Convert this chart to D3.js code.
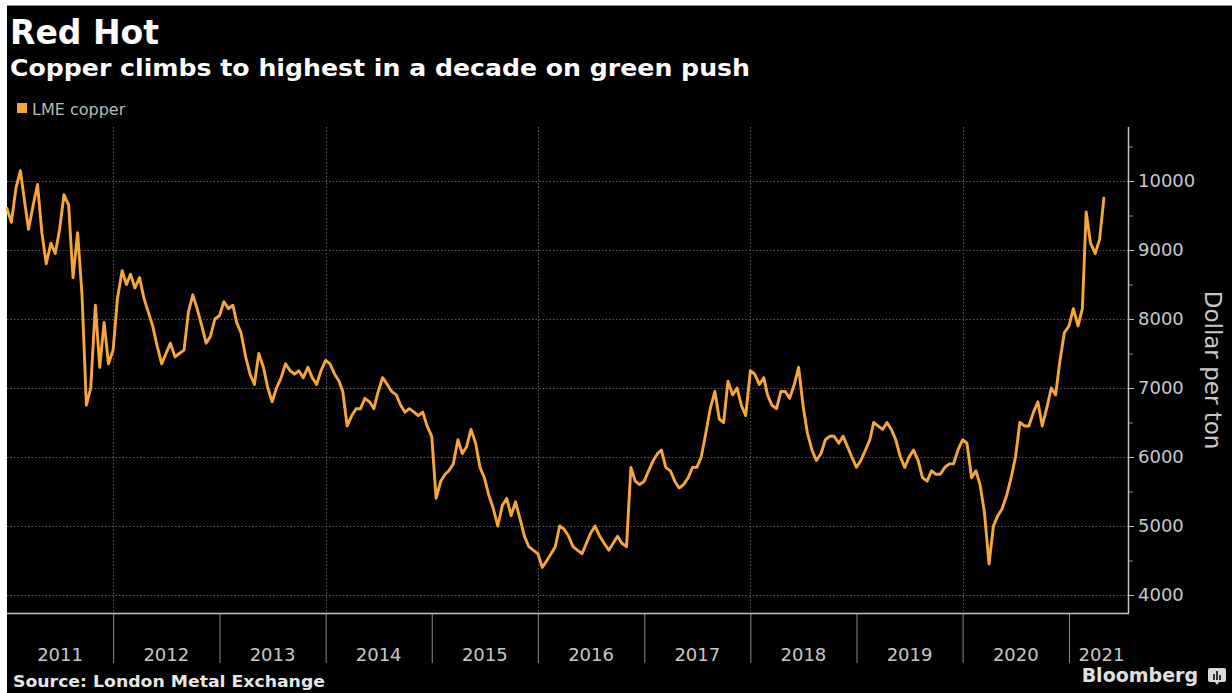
<!DOCTYPE html>
<html>
<head>
<meta charset="utf-8">
<script src="https://cdn.jsdelivr.net/npm/d3@7"></script>
<style>
  html, body { margin: 0; padding: 0; background: #fff; }
  svg { display: block; }
  text { font-family: "DejaVu Sans", Verdana, sans-serif; }
</style>
</head>
<body>
<svg id="chart" width="1232" height="693"></svg>
<script>
// LME copper, dollars per ton: readings on the 1st and 16th of each month
const lme2011 = [9600, 9400, 9900, 10150, 9750, 9300, 9650, 9950, 9250, 8800, 9100, 8950,
                 9300, 9800, 9650, 8600, 9250, 8350, 6750, 7000, 8200, 7300, 7950, 7350];
const lme2012 = [7550, 8300, 8700, 8500, 8650, 8450, 8600, 8300, 8100, 7900, 7600, 7350,
                 7500, 7650, 7450, 7500, 7550, 8100, 8350, 8150, 7900, 7650, 7750, 8000];
const lme2013 = [8050, 8250, 8150, 8200, 7950, 7800, 7450, 7200, 7050, 7500, 7300, 7000,
                 6800, 7000, 7150, 7350, 7250, 7200, 7250, 7150, 7300, 7150, 7050, 7250];
const lme2014 = [7400, 7350, 7200, 7100, 6950, 6450, 6600, 6700, 6700, 6850, 6800, 6700,
                 6950, 7150, 7050, 6950, 6900, 6750, 6650, 6700, 6650, 6600, 6650, 6450];
const lme2015 = [6300, 5400, 5650, 5750, 5800, 5900, 6250, 6050, 6150, 6400, 6200, 5850,
                 5700, 5450, 5250, 5000, 5300, 5400, 5150, 5350, 5100, 4850, 4700, 4650];
const lme2016 = [4600, 4400, 4500, 4600, 4700, 5000, 4950, 4850, 4700, 4650, 4600, 4750,
                 4900, 5000, 4850, 4750, 4650, 4750, 4850, 4750, 4700, 5850, 5650, 5600];
const lme2017 = [5650, 5800, 5950, 6050, 6100, 5850, 5800, 5650, 5550, 5600, 5700, 5850,
                 5850, 6000, 6350, 6700, 6950, 6550, 6500, 7100, 6900, 7000, 6750, 6600];
const lme2018 = [7250, 7200, 7050, 7150, 6900, 6750, 6700, 6950, 6950, 6850, 7050, 7300,
                 6750, 6350, 6100, 5950, 6050, 6250, 6300, 6300, 6200, 6300, 6150, 6000];
const lme2019 = [5850, 5950, 6100, 6250, 6500, 6450, 6400, 6500, 6400, 6250, 6000, 5850,
                 6000, 6100, 5950, 5700, 5650, 5800, 5750, 5750, 5850, 5900, 5900, 6100];
const lme2020 = [6250, 6200, 5700, 5800, 5600, 5200, 4450, 5000, 5150, 5250, 5450, 5700,
                 6000, 6500, 6450, 6450, 6650, 6800, 6450, 6700, 7000, 6900, 7400, 7800];
const lme2021 = [7900, 8150, 7900, 8150, 9550, 9100, 8950, 9150, 9750];

const yearLabels = ["2011", "2012", "2013", "2014", "2015", "2016", "2017", "2018", "2019", "2020", "2021"];
const priceTicks = [4000, 5000, 6000, 7000, 8000, 9000, 10000];
const priceMinorTicks = [4500, 5500, 6500, 7500, 8500, 9500, 10500];
const gridYears = [2012, 2014, 2016, 2018, 2020];

const seriesByYear = [
  [2011, lme2011], [2012, lme2012], [2013, lme2013], [2014, lme2014], [2015, lme2015],
  [2016, lme2016], [2017, lme2017], [2018, lme2018], [2019, lme2019], [2020, lme2020],
  [2021, lme2021]
];
const copper = [];
seriesByYear.forEach(([yr, vals]) => {
  vals.forEach((v, i) => {
    copper.push({ date: new Date(yr, Math.floor(i / 2), i % 2 ? 16 : 1), value: v });
  });
});

const W = 1232, H = 693;
const plot = { left: 7, right: 1128, top: 127, bottom: 613 };
const orange = "#f7a63a";

const svg = d3.select("#chart");

// page frame: thin white margin at top and left, black panel
svg.append("rect").attr("width", W).attr("height", H).attr("fill", "#fff");
svg.append("rect").attr("x", 7).attr("y", 5).attr("width", W - 7).attr("height", H - 5).attr("fill", "#000");
svg.append("line").attr("x1", 7).attr("x2", W).attr("y1", 5.5).attr("y2", 5.5)
  .attr("stroke", "#8a8a8a").attr("stroke-width", 1);

const x = d3.scaleTime()
  .domain([new Date(2011, 0, 1), new Date(2021, 0, 1)])
  .range([plot.left, 1069]);
const y = d3.scaleLinear()
  .domain([4000, 10000])
  .range([595, 181]);

// titles
svg.append("text").attr("x", 10).attr("y", 44)
  .attr("fill", "#fff").attr("font-size", 33).attr("font-weight", "bold")
  .text("Red Hot");
svg.append("text").attr("x", 10).attr("y", 76)
  .attr("fill", "#fff").attr("font-size", 23).attr("font-weight", "bold")
  .attr("textLength", 740).attr("lengthAdjust", "spacingAndGlyphs")
  .text("Copper climbs to highest in a decade on green push");

// legend
svg.append("rect").attr("x", 17).attr("y", 103).attr("width", 10).attr("height", 10).attr("fill", orange);
svg.append("text").attr("x", 32).attr("y", 115)
  .attr("fill", "#b8b8b8").attr("font-size", 16)
  .text("LME copper");

// horizontal dotted grid
svg.append("g").selectAll("line").data(priceTicks).join("line")
  .attr("x1", plot.left).attr("x2", plot.right)
  .attr("y1", d => Math.round(y(d)) + 0.5).attr("y2", d => Math.round(y(d)) + 0.5)
  .attr("stroke", "#5a5a5a").attr("stroke-width", 1).attr("stroke-dasharray", "1.5,2");

// vertical dotted grid every other year
svg.append("g").selectAll("line").data(gridYears).join("line")
  .attr("x1", d => Math.round(x(new Date(d, 0, 1))) + 0.5)
  .attr("x2", d => Math.round(x(new Date(d, 0, 1))) + 0.5)
  .attr("y1", plot.top).attr("y2", plot.bottom)
  .attr("stroke", "#5a5a5a").attr("stroke-width", 1).attr("stroke-dasharray", "1.5,2");

// price line
svg.append("path").datum(copper)
  .attr("fill", "none").attr("stroke", orange).attr("stroke-width", 2.9)
  .attr("stroke-linejoin", "round").attr("stroke-linecap", "round")
  .attr("d", d3.line().x(d => x(d.date)).y(d => y(d.value)));

// right axis
const yAxis = svg.append("g").attr("transform", `translate(${plot.right},0)`)
  .call(d3.axisRight(y).tickValues(priceTicks).tickSize(6).tickPadding(4).tickFormat(d3.format("d")));
yAxis.select(".domain").remove();
yAxis.selectAll(".tick line").attr("stroke", "#bdbdbd");
yAxis.selectAll(".tick text").attr("fill", "#c8c8c8").attr("font-size", 18)
  .attr("font-family", "DejaVu Sans, sans-serif");
const yMinor = svg.append("g").attr("transform", `translate(${plot.right},0)`)
  .call(d3.axisRight(y).tickValues(priceMinorTicks).tickSize(5).tickFormat(""));
yMinor.select(".domain").remove();
yMinor.selectAll(".tick line").attr("stroke", "#8f8f8f");

svg.append("line").attr("x1", plot.right + 0.5).attr("x2", plot.right + 0.5)
  .attr("y1", plot.top).attr("y2", plot.bottom + 1)
  .attr("stroke", "#c4c4c4").attr("stroke-width", 1.5);

svg.append("text")
  .attr("transform", `translate(1205,370) rotate(90)`)
  .attr("text-anchor", "middle").attr("fill", "#c8c8c8").attr("font-size", 23)
  .text("Dollar per ton");

// bottom axis: year separators and centred year labels
const yearStarts = yearLabels.map(s => new Date(+s, 0, 1));
const xAxis = svg.append("g").attr("transform", `translate(0,${plot.bottom})`)
  .call(d3.axisBottom(x).tickValues(yearStarts.slice(1)).tickSize(50).tickFormat(""));
xAxis.select(".domain").remove();
xAxis.selectAll(".tick line").attr("stroke", "#8c8c8c");

svg.append("line").attr("x1", plot.left).attr("x2", plot.right + 1)
  .attr("y1", plot.bottom + 0.5).attr("y2", plot.bottom + 0.5)
  .attr("stroke", "#c4c4c4").attr("stroke-width", 1.5);

svg.append("g").selectAll("text").data(yearLabels).join("text")
  .attr("x", (d, i) => {
    const a = x(yearStarts[i]);
    const b = i + 1 < yearStarts.length ? x(yearStarts[i + 1]) : plot.right;
    return (a + b) / 2 + (i + 1 < yearStarts.length ? 0 : 3);
  })
  .attr("y", 661).attr("text-anchor", "middle")
  .attr("fill", "#c8c8c8").attr("font-size", 18)
  .text(d => d);

// footer
svg.append("text").attr("x", 13).attr("y", 687)
  .attr("fill", "#e6e6e6").attr("font-size", 16.5).attr("font-weight", "bold")
  .attr("textLength", 312).attr("lengthAdjust", "spacingAndGlyphs")
  .text("Source: London Metal Exchange");
svg.append("text").attr("x", 1198).attr("y", 682).attr("text-anchor", "end")
  .attr("fill", "#e0e0e0").attr("font-size", 19).attr("font-weight", "bold")
  .text("Bloomberg");

// Bloomberg badge
const badge = svg.append("g").attr("transform", "translate(1208,668)");
badge.append("rect").attr("width", 18).attr("height", 14).attr("rx", 2).attr("fill", "#d9d9d9");
badge.append("path").attr("d", "M7,14 L9,17 L11,14 Z").attr("fill", "#d9d9d9");
badge.append("rect").attr("x", 5).attr("y", 6).attr("width", 2).attr("height", 6).attr("fill", "#333");
badge.append("rect").attr("x", 8).attr("y", 3).attr("width", 2).attr("height", 9).attr("fill", "#333");
badge.append("rect").attr("x", 11).attr("y", 7).attr("width", 2).attr("height", 5).attr("fill", "#333");
</script>
</body>
</html>
